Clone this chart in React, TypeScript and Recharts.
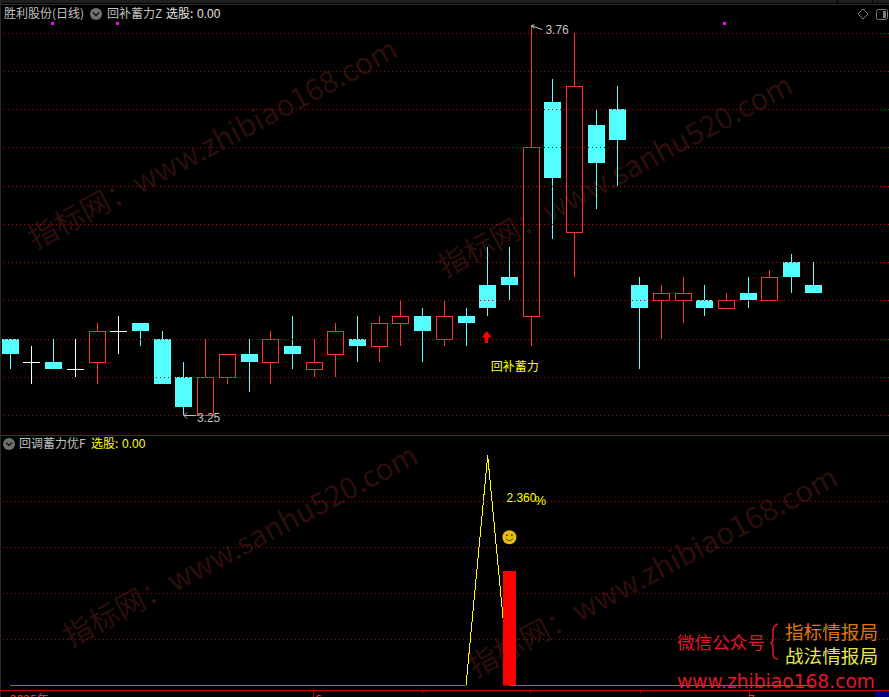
import React from "react";
import { ComposedChart, Bar, Line, XAxis, YAxis, ReferenceLine, ReferenceDot } from "recharts";

const opens = [3.35,3.32,3.32,3.31,3.32,3.36,3.37,3.35,3.30,3.25,3.30,3.33,3.32,3.34,3.31,3.33,3.35,3.34,3.37,3.38,3.35,3.38,3.42,3.43,3.38,3.66,3.49,3.63,3.65,3.42,3.40,3.40,3.40,3.39,3.41,3.40,3.45,3.42];
const closes = [3.33,3.32,3.31,3.31,3.36,3.36,3.36,3.29,3.26,3.30,3.33,3.32,3.35,3.33,3.32,3.36,3.34,3.37,3.38,3.36,3.38,3.37,3.39,3.42,3.60,3.56,3.68,3.58,3.61,3.39,3.41,3.41,3.39,3.40,3.40,3.43,3.43,3.41];
const highs = [3.35,3.34,3.35,3.35,3.37,3.38,3.37,3.36,3.32,3.35,3.33,3.35,3.36,3.38,3.35,3.37,3.38,3.38,3.40,3.39,3.40,3.39,3.47,3.47,3.76,3.69,3.75,3.65,3.68,3.43,3.42,3.43,3.42,3.41,3.43,3.44,3.46,3.45];
const lows = [3.31,3.29,3.31,3.30,3.29,3.33,3.34,3.29,3.25,3.25,3.29,3.28,3.29,3.31,3.30,3.30,3.32,3.32,3.34,3.32,3.34,3.34,3.38,3.40,3.34,3.48,3.43,3.52,3.55,3.31,3.35,3.37,3.38,3.39,3.39,3.40,3.41,3.41];
const signalLine = [0,0,0,0,0,0,0,0,0,0,0,0,0,0,0,0,0,0,0,0,0,0,2.5,0,0,0,0,0,0,0,0,0,0,0,0,0,0,0];
const signalBars = [0,0,0,0,0,0,0,0,0,0,0,0,0,0,0,0,0,0,0,0,0,0,0,1.25,0,0,0,0,0,0,0,0,0,0,0,0,0,0];
const blankSlots = [38,39,40];
const dimPriceGrid = [3.25,3.30,3.35,3.60,3.65,3.70,3.75];
const brightPriceGrid = [3.40,3.45,3.50,3.55];
const signalGrid = [0.5,1,1.5,2];
const markSlots = [2,5,33];
const axisLabels = [{ x: 10, t: "2025年" }, { x: 315, t: "6" }, { x: 748, t: "7" }];
const longTicks = [313, 749];
const shortTicks = [422, 530, 640];

const candles: any[] = [
  ...opens.map((o, i) => ({ i, open: o, close: closes[i], high: highs[i], low: lows[i], range: [lows[i], highs[i]] })),
  ...blankSlots.map((i) => ({ i, open: null, close: null, high: null, low: null, range: null })),
];
const signals: any[] = [
  ...signalLine.map((v, i) => ({ i, line: v, bar: signalBars[i] })),
  ...blankSlots.map((i) => ({ i, line: null, bar: null })),
];

const UP = "#ff3232";
const DOWN = "#54ffff";
const GRID = "#a80000";
const GRID_BRIGHT = "#c80000";
const LABEL = "#c0c0c0";
const CJK = "'Noto Sans CJK SC', sans-serif";
const LAT = "'Liberation Sans', sans-serif";

const Candle = (props: any) => {
  const { x, y, width, height, payload } = props;
  if (!payload || payload.open == null) return null;
  const h = Math.abs(height);
  const top = height < 0 ? y + height : y;
  const k = h / (payload.high - payload.low);
  const py = (v: number) => Math.floor(top + (payload.high - v) * k);
  const col = Math.floor(x + width / 2);
  const yH = py(payload.high);
  const yL = py(payload.low);
  const yT = py(Math.max(payload.open, payload.close));
  const yB = py(Math.min(payload.open, payload.close));
  if (payload.close === payload.open) {
    return (
      <g shapeRendering="crispEdges">
        <rect x={col} y={yH} width={1} height={yL - yH} fill="#fff" />
        <rect x={col - 8} y={yT} width={17} height={1} fill="#fff" />
      </g>
    );
  }
  if (payload.close > payload.open) {
    return (
      <g shapeRendering="crispEdges">
        {yT > yH && <rect x={col} y={yH} width={1} height={yT - yH} fill={UP} />}
        {yL > yB && <rect x={col} y={yB} width={1} height={yL - yB} fill={UP} />}
        <rect x={col - 8 + 0.5} y={yT + 0.5} width={16} height={yB - yT} fill="none" stroke={UP} strokeWidth={1} />
      </g>
    );
  }
  return (
    <g shapeRendering="crispEdges">
      <rect x={col} y={yH} width={1} height={yL - yH} fill={DOWN} />
      <rect x={col - 8} y={yT} width={17} height={yB - yT} fill={DOWN} />
    </g>
  );
};

const HighMark = ({ cx, cy }: any) => (
  <g>
    <polyline points={`${cx + 3},${cy + 3} ${cx},${cy} ${cx + 3},${cy - 1}`} fill="none" stroke={LABEL} />
    <line x1={cx} y1={cy} x2={cx + 11} y2={cy + 4} stroke={LABEL} />
    <text x={cx + 14} y={cy + 8} fill={LABEL} fontFamily={LAT} fontSize={12}>3.76</text>
  </g>
);
const LowMark = ({ cx, cy }: any) => (
  <g>
    <line x1={cx - 22} y1={cy} x2={cx - 10} y2={cy} stroke={LABEL} />
    <polyline points={`${cx - 19},${cy - 3} ${cx - 22},${cy} ${cx - 19},${cy + 3}`} fill="none" stroke={LABEL} />
    <text x={cx - 9} y={cy + 6} fill={LABEL} fontFamily={LAT} fontSize={12}>3.25</text>
  </g>
);
const UpArrow = ({ cx, cy }: any) => (
  <g fill="#ff0000">
    <polygon points={`${cx - 1.3},${cy - 0.5} ${cx + 3.7},${cy + 6} ${cx - 6.3},${cy + 6}`} />
    <rect x={cx - 2.8} y={cy + 5} width={3} height={7} shapeRendering="crispEdges" />
  </g>
);
const SignalName = ({ cx, cy }: any) => (
  <text x={cx - 19} y={cy + 4} fill="#ffff00" fontFamily={CJK} fontSize={12}>回补蓄力</text>
);
const Magenta = ({ cx, cy }: any) => (
  <rect x={Math.floor(cx) - 3} y={Math.round(cy) - 1} width={3} height={3} fill="#ff00ff" shapeRendering="crispEdges" />
);
const Smiley = ({ cx, cy }: any) => (
  <g>
    <circle cx={cx} cy={cy} r={7} fill="#e6be10" />
    <circle cx={cx - 2.5} cy={cy - 2} r={1} fill="#5a4500" />
    <circle cx={cx + 2.5} cy={cy - 2} r={1} fill="#5a4500" />
    <path d={`M${cx - 3.5},${cy + 1.5} Q${cx},${cy + 5.5} ${cx + 3.5},${cy + 1.5}`} fill="none" stroke="#5a4500" />
  </g>
);
const PctLabel = ({ cx, cy }: any) => (
  <g fill="#ffff00" fontFamily={LAT}>
    <text x={cx - 3} y={cy + 5} fontSize={12}>2.360</text>
    <text x={cx + 25} y={cy + 8} fontSize={13}>%</text>
  </g>
);

const Watermark = ({ x, y, t }: { x: number; y: number; t: string }) => (
  <text x={x} y={y} transform={`rotate(-28 ${x} ${y})`} fill="#2c0e0b" fontFamily={CJK} fontSize={29.5}>{t}</text>
);

const Chevron = ({ cx, cy }: { cx: number; cy: number }) => (
  <g>
    <circle cx={cx} cy={cy} r={6} fill="#707070" />
    <path d={`M${cx - 3},${cy - 1.5} L${cx},${cy + 1.5} L${cx + 3},${cy - 1.5}`} fill="none" stroke="#111" strokeWidth={1.3} />
  </g>
);

export default function App() {
  return (
    <div style={{ position: "absolute", left: 0, top: 0, width: 889, height: 697, background: "#000", overflow: "hidden" }}>
      <svg width={889} height={697} style={{ position: "absolute", left: 0, top: 0 }}>
        <Watermark x={35} y={250} t="指标网：www.zhibiao168.com" />
        <Watermark x={445} y={278} t="指标网：www.sanhu520.com" />
        <Watermark x={70} y={648} t="指标网：www.sanhu520.com" />
        <Watermark x={475} y={678} t="指标网：www.zhibiao168.com" />
      </svg>

      <div style={{ position: "absolute", left: -1, top: 0 }}>
        <ComposedChart width={891} height={435} data={candles} margin={{ top: 18, bottom: 4.2, left: 0.8, right: 0.5 }} barSize={17}>
          <XAxis dataKey="i" type="category" hide />
          <YAxis type="number" domain={[3.23, 3.77]} allowDataOverflow hide />
          {dimPriceGrid.map((v) => (
            <ReferenceLine key={v} y={v} stroke={GRID} strokeDasharray="1 3" shapeRendering="crispEdges" />
          ))}
          {brightPriceGrid.map((v) => (
            <ReferenceLine key={v} y={v} stroke={GRID_BRIGHT} strokeDasharray="1 3" shapeRendering="crispEdges" />
          ))}
          <Bar dataKey="range" shape={Candle} isAnimationActive={false} />
          {markSlots.map((s) => (
            <ReferenceDot key={s} x={s} y={3.763} r={2} shape={Magenta} />
          ))}
          <ReferenceDot x={24} y={3.76} r={2} shape={HighMark} />
          <ReferenceDot x={9} y={3.25} r={2} shape={LowMark} />
          <ReferenceDot x={22} y={3.36} r={2} shape={UpArrow} />
          <ReferenceDot x={23} y={3.313} r={2} shape={SignalName} />
        </ComposedChart>
      </div>

      <div style={{ position: "absolute", left: -1, top: 435 }}>
        <ComposedChart width={891} height={262} data={signals} margin={{ top: 11.3, bottom: 11.5, left: 0.45, right: 0.85 }} barSize={13}>
          <XAxis dataKey="i" type="category" hide />
          <YAxis type="number" domain={[0, 2.6]} allowDataOverflow hide />
          {signalGrid.map((v) => (
            <ReferenceLine key={v} y={v} stroke={GRID} strokeDasharray="1 3" shapeRendering="crispEdges" />
          ))}
          <Line dataKey="line" stroke="#ffff00" strokeWidth={1} dot={false} type="linear" isAnimationActive={false} shapeRendering="crispEdges" zIndex={300} />
          <Bar dataKey="bar" fill="#ff0000" isAnimationActive={false} shapeRendering="crispEdges" zIndex={400} />
          <ReferenceDot x={23} y={1.612} r={2} shape={Smiley} />
          <ReferenceDot x={23} y={2.05} r={2} shape={PctLabel} />
        </ComposedChart>
      </div>

      <svg width={889} height={697} style={{ position: "absolute", left: 0, top: 0 }}>
        <g shapeRendering="crispEdges">
          <rect x={0} y={0} width={889} height={3} fill="#1e1e1e" />
          <rect x={837} y={0} width={1} height={3} fill="#000" />
          <rect x={872} y={0} width={1} height={3} fill="#000" />
          <rect x={0} y={4} width={889} height={1} fill="#303030" />
          <rect x={0} y={0} width={1} height={697} fill="#2a2a2a" />
          <rect x={0} y={435} width={889} height={1} fill="#a80000" />
          <rect x={0} y={690} width={889} height={1} fill="#c80000" />
          <rect x={875} y={691} width={14} height={6} fill="#000080" />
          {longTicks.map((x) => <rect key={x} x={x} y={690} width={1} height={7} fill="#c80000" />)}
          {shortTicks.map((x) => <rect key={x} x={x} y={690} width={1} height={3} fill="#c80000" />)}
        </g>
        {axisLabels.map((a) => (
          <text key={a.x} x={a.x} y={704} fill="#ff3232" fontFamily={CJK} fontSize={12}>{a.t}</text>
        ))}

        <text x={4} y={18} fill={LABEL} fontFamily={CJK} fontSize={12}>胜利股份(日线)</text>
        <Chevron cx={96} cy={14} />
        <text x={107} y={18} fill={LABEL} fontFamily={CJK} fontSize={12}>回补蓄力Z</text>
        <text x={166} y={18} fill="#e6e6e6" fontFamily={CJK} fontSize={12}>选股:</text>
        <text x={197} y={18} fill="#e6e6e6" fontFamily={LAT} fontSize={12}>0.00</text>

        <path d="M863,9 L868,14 L863,19 L858,14 Z" fill="none" stroke="#808080" />
        <rect x={876.5} y={9.5} width={11} height={10} rx={2} fill="none" stroke="#808080" />
        <rect x={883} y={11} width={3} height={7} fill="#808080" />

        <Chevron cx={9} cy={444} />
        <text x={19} y={448} fill={LABEL} fontFamily={CJK} fontSize={12}>回调蓄力优F</text>
        <text x={91} y={448} fill="#ffff00" fontFamily={CJK} fontSize={12}>选股:</text>
        <text x={122} y={448} fill="#ffff00" fontFamily={LAT} fontSize={12}>0.00</text>

        <text x={677} y={649} fill="#e6142d" fontFamily={CJK} fontSize={17.6}>微信公众号</text>
        <path d="M778,624 Q773,625 773,632 L773,638 Q773,642 771,643 Q773,644 773,648 L773,653 Q773,659 778,659" fill="none" stroke="#e6142d" strokeWidth={1.5} />
        <text x={785} y={638.5} fill="#e07800" fontFamily={CJK} fontSize={18.6}>指标情报局</text>
        <text x={785} y={662.5} fill="#e6e650" fontFamily={CJK} fontSize={18.6}>战法情报局</text>
        <text x={677} y={688} fill="#e6142d" fontFamily="'DejaVu Sans', sans-serif" fontSize={19} textLength={198} lengthAdjust="spacingAndGlyphs">www.zhibiao168.com</text>
      </svg>
    </div>
  );
}
